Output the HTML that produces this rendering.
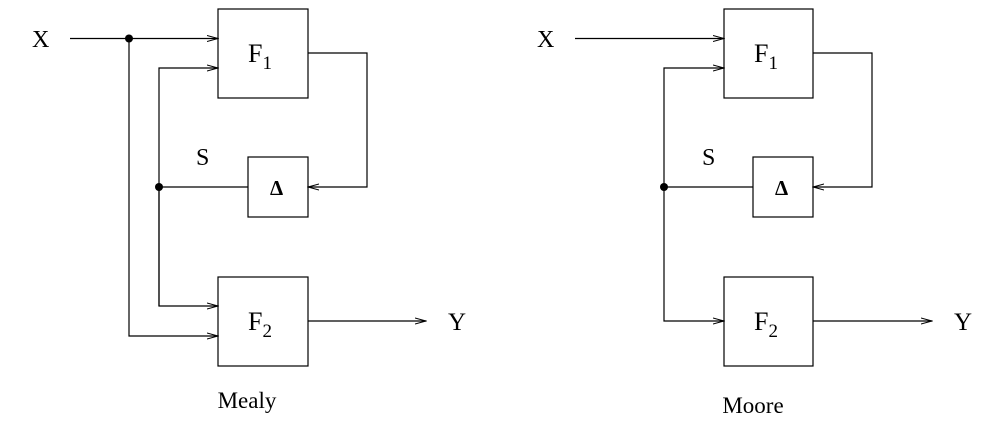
<!DOCTYPE html>
<html><head><meta charset="utf-8"><style>
html,body{margin:0;padding:0;background:#fff;width:1002px;height:426px;overflow:hidden}
svg text{font-family:"Liberation Serif",serif;fill:#000}
</style></head><body>
<svg width="1002" height="426" viewBox="0 0 1002 426">
<defs><marker id="ar" markerWidth="12" markerHeight="8" refX="11" refY="4" orient="auto" markerUnits="userSpaceOnUse"><path d="M0,1 L11,4 L0,7" fill="none" stroke="#000" stroke-width="1"/></marker></defs>
<g id="mealy" stroke="#000" stroke-width="1.2" fill="none">
 <rect x="218" y="9" width="90" height="89"/>
 <rect x="248" y="157" width="60" height="60"/>
 <rect x="218" y="277" width="90" height="89"/>
 <path d="M70,38.5 H218" marker-end="url(#ar)"/>
 <path d="M159,306 V68 H218" marker-end="url(#ar)"/>
 <path d="M308,53 H367 V187 H308" marker-end="url(#ar)"/>
 <path d="M159,187 H248"/>
 <path d="M159,187 V306 H218" marker-end="url(#ar)"/>
 <path d="M129,38.5 V336 H218" marker-end="url(#ar)"/>
 <path d="M308,321 H426" marker-end="url(#ar)"/>
 <circle cx="129" cy="38.5" r="4" fill="#000" stroke="none"/>
 <circle cx="159" cy="187" r="4" fill="#000" stroke="none"/>
</g>
<g stroke="none">
 <text x="32" y="47" font-size="24">X</text>
 <text x="196" y="165" font-size="24">S</text>
 <text x="248" y="62" font-size="26">F<tspan font-size="19" dy="7">1</tspan></text>
 <text x="270" y="195" font-size="21" font-weight="bold">Δ</text>
 <text x="248" y="330" font-size="26">F<tspan font-size="19" dy="7">2</tspan></text>
 <text x="448" y="330" font-size="25">Y</text>
 <text x="247" y="408" font-size="23" text-anchor="middle">Mealy</text>
</g>
<g id="moore" stroke="#000" stroke-width="1.2" fill="none">
 <rect x="724" y="9" width="89" height="89"/>
 <rect x="753" y="157" width="60" height="60"/>
 <rect x="724" y="277" width="89" height="89"/>
 <path d="M575,38.5 H724" marker-end="url(#ar)"/>
 <path d="M664,187 V68 H724" marker-end="url(#ar)"/>
 <path d="M813,53 H872 V187 H813" marker-end="url(#ar)"/>
 <path d="M664,187 H753"/>
 <path d="M664,187 V321 H724" marker-end="url(#ar)"/>
 <path d="M813,321 H932" marker-end="url(#ar)"/>
 <circle cx="664" cy="187" r="4" fill="#000" stroke="none"/>
</g>
<g stroke="none">
 <text x="537" y="47" font-size="24">X</text>
 <text x="702" y="165" font-size="24">S</text>
 <text x="754" y="62" font-size="26">F<tspan font-size="19" dy="7">1</tspan></text>
 <text x="775" y="195" font-size="21" font-weight="bold">Δ</text>
 <text x="754" y="330" font-size="26">F<tspan font-size="19" dy="7">2</tspan></text>
 <text x="954" y="330" font-size="25">Y</text>
 <text x="753" y="413" font-size="23" text-anchor="middle">Moore</text>
</g>
</svg>
</body></html>
